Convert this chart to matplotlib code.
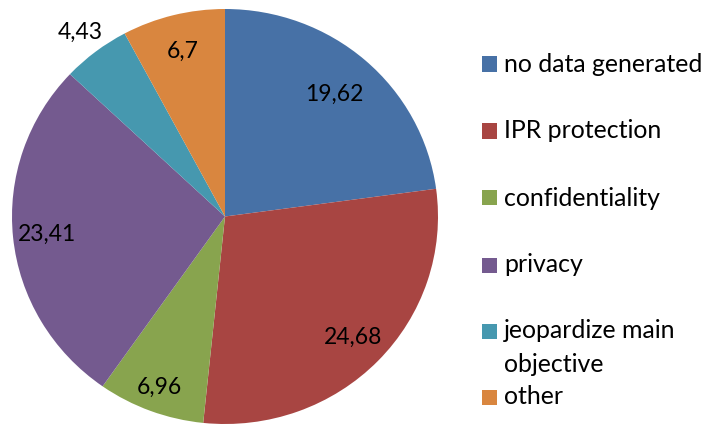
import numpy as np
import matplotlib
matplotlib.use("Agg")
import matplotlib.pyplot as plt
from matplotlib.patches import Rectangle

categories = ["no data generated", "IPR protection", "confidentiality", "privacy",
              "jeopardize main\nobjective", "other"]
values = [19.62, 24.68, 6.96, 23.41, 4.43, 6.7]
value_labels = ["19,62", "24,68", "6,96", "23,41", "4,43", "6,7"]
colors = ["#4771A6", "#A84542", "#88A44E", "#745A8F", "#4698AF", "#D9863F"]

label_dist = [0.78, 0.84, 0.88, 0.84, 1.12, 0.82]

W, H = 706, 429
fig = plt.figure(figsize=(W / 100, H / 100), dpi=100)
fig.patch.set_facecolor("white")

# pie axes (slightly elliptical like the reference)
x0, x1, y0, y1 = 12, 438, 9, 424
ax = fig.add_axes([x0 / W, (H - y1) / H, (x1 - x0) / W, (y1 - y0) / H])
wedges, _ = ax.pie(values, colors=colors, startangle=90, counterclock=False,
                   wedgeprops=dict(linewidth=0))
ax.set_aspect("auto")
ax.set_xlim(-1, 1)
ax.set_ylim(-1, 1)
ax.axis("off")

font = "Lato"
for w, lab, d in zip(wedges, value_labels, label_dist):
    ang = np.deg2rad((w.theta1 + w.theta2) / 2)
    ax.text(d * np.cos(ang), d * np.sin(ang), lab, ha="center", va="center",
            fontsize=16.5, family=font, color="black")

# legend drawn manually
leg_y = [64, 131, 198, 265, 331, 397]
for cat, col, yy in zip(categories, colors, leg_y):
    fig.add_artist(Rectangle((482 / W, 1 - (yy + 7.5) / H), 15 / W, 15 / H,
                             transform=fig.transFigure, facecolor=col,
                             edgecolor="none"))
    lines = cat.split("\n")
    for i, ln in enumerate(lines):
        fig.text(504 / W, 1 - (yy + i * 33) / H, ln, ha="left", va="center",
                 fontsize=17.9, family=font, color="black")

fig.savefig("out.png", dpi=100)
